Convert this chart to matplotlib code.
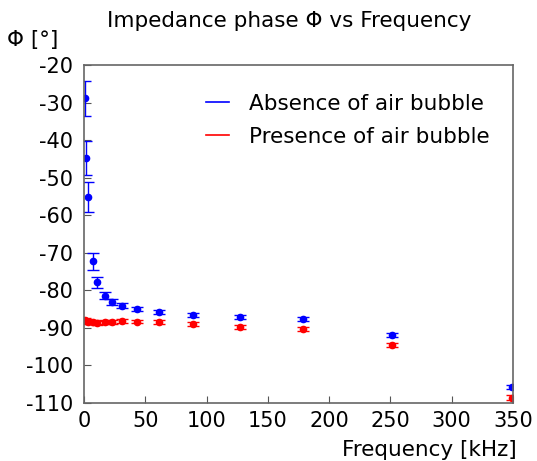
import numpy as np
import matplotlib.pyplot as plt

# frequencies in kHz
freq = [1, 2, 3, 7, 11, 17, 23, 31, 43, 61, 89, 127, 179, 251, 349]

# phase without air bubble
phase_absent = [-28.9, -44.8, -55.2, -72.3, -77.9, -81.4, -83.0, -84.1,
                -85.0, -85.8, -86.5, -87.1, -87.7, -91.9, -105.7]
err_absent = [4.7, 4.5, 4.0, 2.2, 1.5, 1.0, 0.8, 0.6,
              0.5, 0.5, 0.5, 0.5, 0.5, 0.5, 0.6]

# phase with air bubble
phase_present = [-88.0, -88.2, -88.4, -88.5, -88.6, -88.5, -88.5, -88.2,
                 -88.3, -88.4, -89.0, -89.7, -90.3, -94.6, -108.6]
err_present = [0.6, 0.6, 0.5, 0.5, 0.5, 0.5, 0.5, 0.5,
               0.5, 0.5, 0.5, 0.5, 0.5, 0.5, 0.6]

plt.rcParams['font.family'] = ['DejaVu Sans']
plt.rcParams['axes.unicode_minus'] = False
fs = 15.5

fig = plt.figure(figsize=(5.37, 4.61), dpi=100)
ax = fig.add_axes([0.1564, 0.1258, 0.7989, 0.7332])

ax.errorbar(freq, phase_absent, yerr=err_absent, fmt='o', color='#0000ff',
            ms=4.5, elinewidth=1, capsize=4, capthick=1)
ax.errorbar(freq, phase_present, yerr=err_present, fmt='o', color='#ff0000',
            ms=4.5, elinewidth=1, capsize=4, capthick=1)

# legend with plain lines like gnuplot
ax.plot([], [], color='#0000ff', lw=1.2, label='Absence of air bubble')
ax.plot([], [], color='#ff0000', lw=1.2, label='Presence of air bubble')
handles, labels = ax.get_legend_handles_labels()
ax.legend(handles[-2:], labels[-2:], loc='upper right', frameon=False,
          fontsize=fs, handlelength=1.1, handletextpad=0.9,
          bbox_to_anchor=(0.99, 0.973), labelspacing=0.62)

ax.set_xlim(0, 350)
ax.set_ylim(-110, -20)
ax.set_xticks(np.arange(0, 351, 50))
ax.set_yticks(np.arange(-110, -19, 10))
ax.tick_params(direction='in', length=5, labelsize=15, color='#555555')
ax.tick_params(axis='x', pad=6)
ax.tick_params(axis='y', pad=8)
for s in ax.spines.values():
    s.set_color('#666666')
    s.set_linewidth(1.2)

fig.text(0.538, 0.955, 'Impedance phase Φ vs Frequency', ha='center',
         va='center', fontsize=fs)
fig.text(0.013, 0.913, 'Φ [°]', ha='left', va='center', fontsize=fs)
fig.text(0.963, 0.024, 'Frequency [kHz]', ha='right', va='center', fontsize=fs)

fig.savefig('out.png', dpi=100)
